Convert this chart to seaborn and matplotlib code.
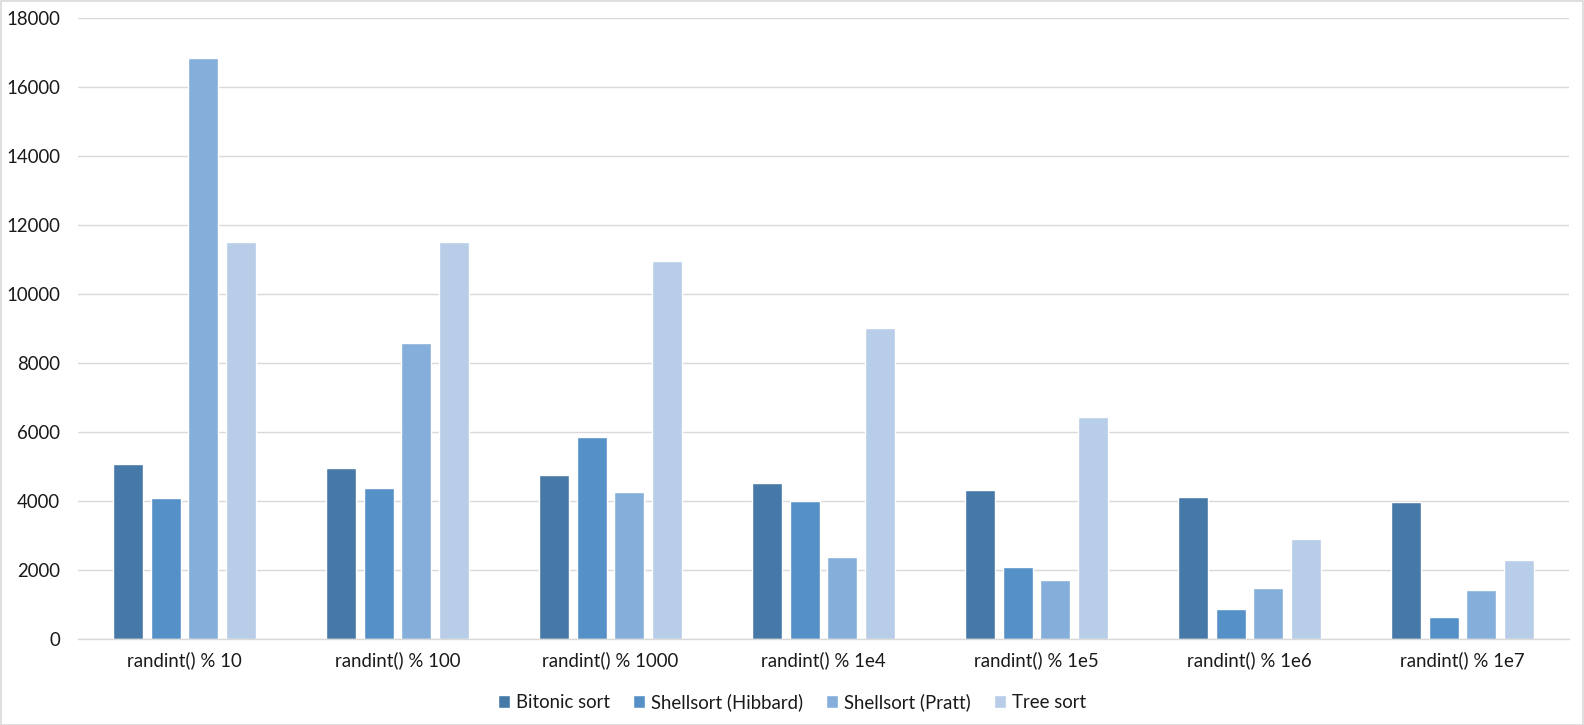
import pandas as pd
import numpy as np
import matplotlib
matplotlib.use('Agg')
import matplotlib.pyplot as plt
import seaborn as sns
from matplotlib.patches import Rectangle

#%% data
categories = ['randint() % 10', 'randint() % 100', 'randint() % 1000', 'randint() % 1e4',
              'randint() % 1e5', 'randint() % 1e6', 'randint() % 1e7']
series = ['Bitonic sort', 'Shellsort (Hibbard)', 'Shellsort (Pratt)', 'Tree sort']
bitonic = [5070, 4965, 4755, 4530, 4330, 4125, 3980]
hibbard = [4095, 4385, 5865, 4010, 2085, 880, 645]
pratt = [16850, 8590, 4270, 2385, 1720, 1490, 1430]
tree = [11515, 11515, 10965, 9025, 6445, 2905, 2300]
colors = ['#4679A8', '#5591C7', '#86AEDA', '#B8CDE8']

#%%
df = pd.DataFrame({'cat': categories, series[0]: bitonic, series[1]: hibbard,
                   series[2]: pratt, series[3]: tree})
long = df.melt(id_vars='cat', var_name='algo', value_name='val')

sns.set_theme(style='white')
plt.rcParams['font.family'] = ['Lato', 'DejaVu Sans']

fig = plt.figure(figsize=(15.84, 7.25), dpi=100)

# pick a font size so the first category label is about as wide as in the source (~115 px)
r = fig.canvas.get_renderer()
t = fig.text(0, 0, categories[0], fontsize=10)
w10 = t.get_window_extent(renderer=r).width
t.remove()
fs = 10 * 115 / w10

ax = fig.add_axes([78/1584, 1-639/725, (1569-78)/1584, (639-18)/725])

sns.barplot(data=long, x='cat', y='val', hue='algo', hue_order=series, order=categories,
            palette=colors, width=0.712, gap=0.21, saturation=1, ax=ax, legend=True)

ax.set_ylim(0, 18000)
ax.set_yticks(np.arange(0, 18001, 2000))
ax.yaxis.grid(True, color='#D9D9D9', linewidth=1)
ax.set_axisbelow(True)
for s in ['top', 'right', 'left']:
    ax.spines[s].set_visible(False)
ax.spines['bottom'].set_color('#D9D9D9')
ax.spines['bottom'].set_linewidth(1)
ax.tick_params(axis='y', length=0, pad=13, labelsize=fs, labelcolor='#1a1a1a')
ax.tick_params(axis='x', length=0, pad=9, labelsize=fs, labelcolor='#1a1a1a')
ax.set_xlabel('')
ax.set_ylabel('')

handles, labels = ax.get_legend_handles_labels()
ax.get_legend().remove()
fig.legend(handles, labels, loc='center', bbox_to_anchor=(0.5, 1-702/725), ncol=4,
           frameon=False, handlelength=0.65, handleheight=0.65, handletextpad=0.3,
           columnspacing=1.25, fontsize=fs, labelcolor='#1a1a1a')

fig.patches.append(Rectangle((0.5/1584, 0.5/725), 1-1.5/1584, 1-1.5/725, transform=fig.transFigure,
                             fill=False, edgecolor='#D9D9D9', linewidth=1.2))

fig.savefig('out.png', dpi=100)
